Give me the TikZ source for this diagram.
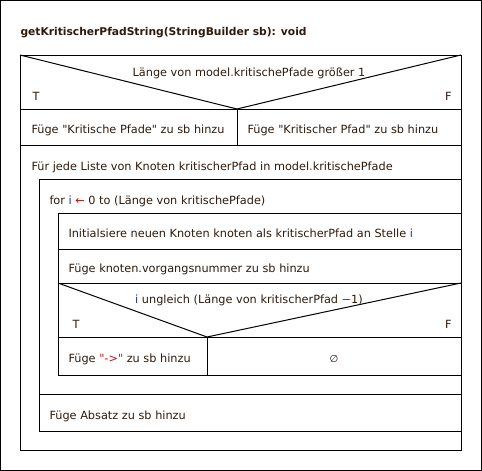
\documentclass[tikz,border=0pt]{standalone}
\usepackage{fontspec}
\setmainfont{DejaVu Sans}[Ligatures=TeXOff]
\usetikzlibrary{positioning}
\definecolor{Ink}{HTML}{2E1A0C}
\definecolor{VarBlue}{HTML}{2E2EA0}
\definecolor{OpRed}{HTML}{C01010}
\newcommand{\vr}[1]{\textcolor{VarBlue}{#1}}
\newcommand{\opr}[1]{\textcolor{OpRed}{#1}}

\begin{document}
\begin{tikzpicture}[x=1pt,y=-1pt,line width=1pt,font=\fontsize{11.3}{13}\selectfont,
  txt/.style={anchor=base west,inner sep=0pt,text=Ink},
  mid/.style={anchor=base,inner sep=0pt,text=Ink}]
  \useasboundingbox (0,0) rectangle (482,471);
  \draw (0.5,0.5) rectangle (481.5,470.5);
  % frames
  \draw (20,55) rectangle (461,450);
  \draw (39,179) rectangle (461,431);
  \draw (58,213) rectangle (461,375);
  \foreach \y/\l in {109/20,145/20,394/39,249/58,283/58,337/58}{\draw (\l,\y)--(461,\y);}
  % decisions
  \draw (20,55)--(237,109)--(461,55);
  \draw (237,109)--(237,145);
  \draw (58,283)--(207,337)--(461,283);
  \draw (207,337)--(207,375);
  % texts
  \node[txt,font=\fontsize{10.7}{13}\selectfont\bfseries] (title) at (20,35) {getKritischerPfadString(StringBuilder sb): void};
  \node[mid] (cond1) at (249,76) {Länge von model\opr{.}kritischePfade größer 1};
  \node[txt] (t1) at (32,100) {T};
  \node[mid,anchor=base east] (f1) at (452,100) {F};
  \node[txt] (yes1) at (31,133) {Füge "Kritische Pfade" zu sb hinzu};
  \node[txt] (no1) at (247,133) {Füge "Kritischer Pfad" zu sb hinzu};
  \node[txt] (each) at (31,170) {Für jede Liste von Knoten kritischerPfad in model\opr{.}kritischePfade};
  \node[txt] (loop) at (49,204) {for \vr{i} \opr{←} 0 to (Länge von kritischePfade)};
  \node[txt] (init) at (68,237) {Initialsiere neuen Knoten knoten als kritischerPfad an Stelle \vr{i}};
  \node[txt] (add) at (68,272) {Füge knoten.vorgangsnummer zu sb hinzu};
  \node[mid] (cond2) at (249,303) {\vr{i} ungleich (Länge von kritischerPfad \opr{−}1)};
  \node[txt] (t2) at (72,328) {T};
  \node[mid,anchor=base east] (f2) at (452,328) {F};
  \node[txt] (yes2) at (68,362) {Füge \opr{"->"} zu sb hinzu};
  \node[mid,font=\fontsize{10}{11}\selectfont] (no2) at (334,362) {∅};
  \node[txt] (para) at (49,419) {Füge Absatz zu sb hinzu};
\end{tikzpicture}
\end{document}
